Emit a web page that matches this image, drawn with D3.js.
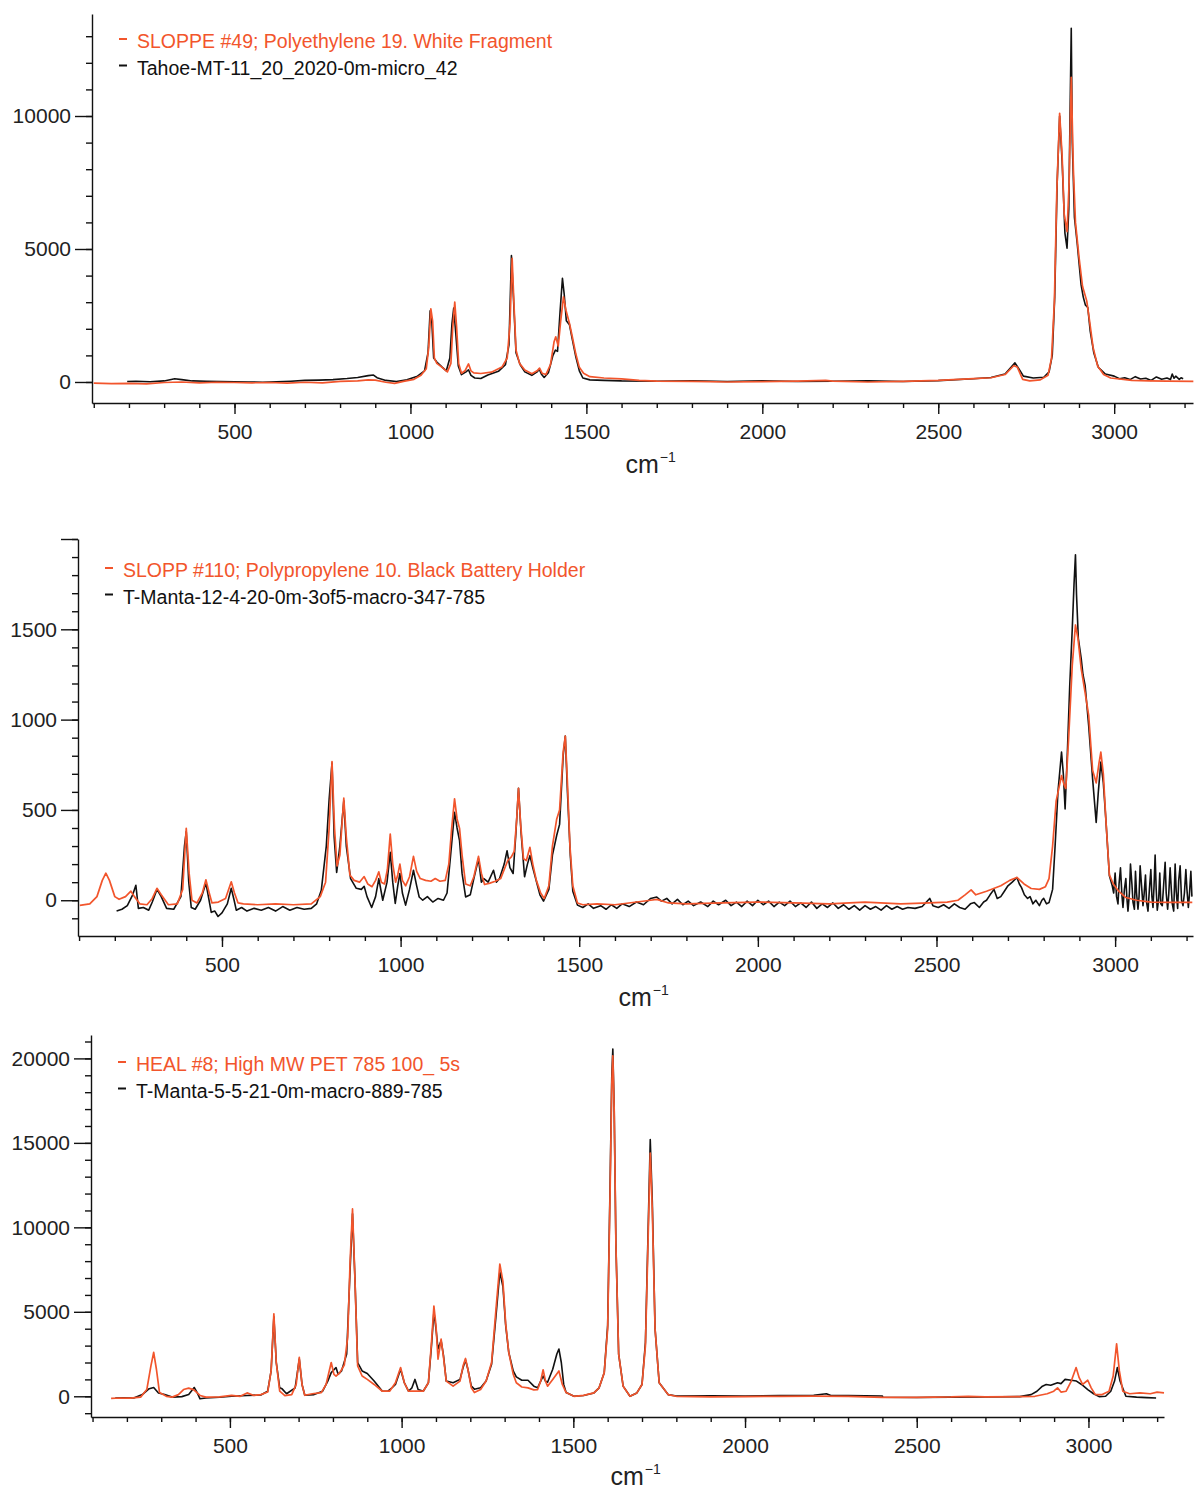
<!DOCTYPE html>
<html>
<head>
<meta charset="utf-8">
<script src="https://cdn.jsdelivr.net/npm/d3@7"></script>
<style>
  body { margin: 0; background: #fff; }
  svg { display: block; font-family: "Liberation Sans", Arial, sans-serif; }
</style>
</head>
<body>
<div id="chart"></div>
<script>
// ---- data: [wavenumber cm-1, intensity] ----

const peRefName = 'SLOPPE #49; Polyethylene 19. White Fragment'
const peSampleName = 'Tahoe-MT-11_20_2020-0m-micro_42'
const peRef = [
  [100, -40], [150, -60], [200, -50], [250, -70], [300, -20], [350, 0], [400, -30], [450, -10],
  [500, -20], [550, -30], [600, -20], [650, -40], [700, -10], [750, -30], [800, 20], [850, 40],
  [880, 80], [900, 70], [930, -10], [955, -50], [980, 20], [1010, 100], [1030, 250], [1045, 500],
  [1052, 1300], [1058, 2750], [1063, 2300], [1068, 900], [1075, 700], [1090, 550], [1105, 380],
  [1115, 700], [1120, 2000], [1126, 3000], [1131, 2100], [1137, 700], [1145, 330], [1155, 420],
  [1165, 680], [1172, 420], [1180, 340], [1200, 320], [1230, 370], [1260, 560], [1275, 900],
  [1283, 2200], [1289, 4650], [1294, 3000], [1300, 1200], [1310, 700], [1325, 450], [1345, 310],
  [1360, 420], [1367, 520], [1374, 330], [1385, 280], [1398, 650], [1408, 1500], [1413, 1700],
  [1420, 1350], [1427, 2300], [1435, 3200], [1442, 2700], [1452, 2200], [1460, 1700], [1470, 1050],
  [1480, 550], [1492, 330], [1510, 200], [1550, 150], [1600, 120], [1650, 60], [1700, 30],
  [1800, 20], [1900, 0], [2000, 10], [2100, 30], [2180, 60], [2200, 30], [2300, 0], [2400, 20],
  [2500, 60], [2600, 130], [2650, 160], [2690, 280], [2715, 620], [2725, 550], [2740, 100],
  [2760, 40], [2790, 80], [2812, 250], [2822, 900], [2830, 3000], [2837, 7200], [2845, 10100],
  [2852, 8500], [2858, 6300], [2866, 5650], [2872, 7500], [2878, 11450], [2884, 8000], [2890, 6000],
  [2900, 4700], [2910, 3600], [2922, 3050], [2930, 2300], [2940, 1300], [2953, 600], [2970, 280],
  [2990, 150], [3050, 60], [3100, 40], [3150, 30], [3225, 20]
]
const peSample = [
  [195, 20], [220, 30], [260, 10], [300, 40], [330, 120], [350, 90], [380, 40], [420, 30],
  [460, 20], [500, 10], [540, 0], [580, -10], [620, 10], [660, 30], [700, 60], [740, 70],
  [780, 90], [820, 130], [850, 170], [880, 240], [895, 260], [905, 160], [930, 60], [960, 20],
  [990, 80], [1020, 220], [1040, 420], [1050, 1100], [1056, 2680], [1061, 2200], [1066, 900],
  [1075, 750], [1090, 560], [1102, 420], [1112, 900], [1118, 2200], [1123, 2780], [1129, 1800],
  [1136, 600], [1145, 275], [1158, 380], [1165, 460], [1172, 250], [1183, 150], [1200, 130],
  [1220, 260], [1250, 400], [1270, 650], [1280, 1400], [1287, 4750], [1293, 3100], [1300, 1100],
  [1312, 650], [1325, 380], [1345, 250], [1360, 380], [1366, 480], [1373, 280], [1380, 170],
  [1392, 350], [1405, 1000], [1412, 1200], [1418, 1150], [1425, 2600], [1432, 3900], [1437, 3300],
  [1443, 2300], [1452, 2150], [1460, 1600], [1470, 950], [1480, 420], [1490, 150], [1510, 80],
  [1550, 60], [1600, 40], [1700, 30], [1800, 40], [1900, 20], [2000, 40], [2100, 20], [2200, 30],
  [2300, 40], [2400, 20], [2500, 50], [2600, 120], [2650, 170], [2690, 300], [2718, 720],
  [2728, 520], [2742, 220], [2770, 150], [2800, 180], [2815, 380], [2824, 1000], [2831, 3200],
  [2838, 7500], [2845, 10000], [2852, 8300], [2860, 5600], [2866, 5030], [2871, 6500],
  [2875, 10500], [2878, 13300], [2881, 9000], [2887, 6200], [2895, 5200], [2906, 3650],
  [2912, 3200], [2918, 2900], [2925, 2800], [2932, 1900], [2942, 1100], [2955, 550], [2975, 300],
  [3000, 220], [3015, 120], [3030, 160], [3045, 90], [3060, 200], [3075, 110], [3090, 140],
  [3105, 60], [3120, 190], [3135, 100], [3150, 150], [3160, 90], [3165, 300], [3170, 140],
  [3175, 220], [3185, 100], [3190, 160], [3196, 120]
]

const ppRefName = 'SLOPP #110; Polypropylene 10. Black Battery Holder'
const ppSampleName = 'T-Manta-12-4-20-0m-3of5-macro-347-785'
const ppRef = [
  [102, -28], [130, -20], [150, 20], [165, 110], [175, 150], [185, 110], [200, 20], [212, 5],
  [230, 20], [245, 50], [255, 20], [270, -20], [290, -25], [305, 10], [318, 66], [330, 30],
  [350, -25], [375, -20], [390, 60], [400, 398], [408, 150], [416, 0], [430, -15], [445, 40],
  [455, 113], [463, 50], [472, -15], [490, -10], [510, 10], [526, 102], [535, 40], [545, -15],
  [560, -20], [600, -25], [650, -20], [700, -25], [750, -20], [775, 20], [790, 100], [800, 400],
  [808, 768], [815, 400], [822, 190], [830, 250], [841, 565], [848, 350], [858, 140], [870, 110],
  [885, 100], [898, 131], [908, 90], [920, 75], [930, 110], [939, 157], [946, 100], [955, 90],
  [963, 170], [971, 366], [978, 200], [986, 100], [992, 140], [998, 200], [1005, 110], [1014, 80],
  [1025, 130], [1036, 243], [1045, 160], [1055, 120], [1070, 110], [1085, 105], [1097, 120],
  [1110, 105], [1125, 110], [1135, 200], [1143, 400], [1151, 561], [1158, 450], [1165, 398],
  [1172, 250], [1182, 90], [1195, 80], [1205, 130], [1218, 243], [1226, 150], [1235, 87],
  [1250, 95], [1265, 105], [1280, 120], [1292, 180], [1300, 220], [1310, 240], [1318, 270],
  [1325, 450], [1330, 620], [1336, 420], [1344, 230], [1352, 220], [1362, 293], [1370, 200],
  [1380, 110], [1392, 40], [1402, 10], [1415, 80], [1425, 300], [1437, 450], [1445, 500],
  [1455, 820], [1461, 909], [1467, 650], [1474, 300], [1482, 80], [1495, -15], [1510, -25],
  [1550, -20], [1600, -25], [1700, 0], [1717, 5], [1750, -15], [1800, -20], [1900, -15],
  [2000, -10], [2100, -15], [2200, -20], [2300, -10], [2400, -20], [2480, -15], [2530, -10],
  [2560, 0], [2580, 30], [2597, 57], [2610, 30], [2640, 50], [2680, 80], [2705, 110], [2725, 126],
  [2745, 90], [2765, 65], [2788, 60], [2805, 75], [2815, 120], [2825, 300], [2835, 550],
  [2850, 690], [2857, 640], [2862, 620], [2870, 900], [2880, 1300], [2889, 1524], [2896, 1450],
  [2905, 1283], [2916, 1150], [2926, 1024], [2937, 720], [2947, 650], [2955, 760], [2960, 820],
  [2967, 700], [2974, 450], [2984, 140], [2995, 90], [3010, 50], [3030, 15], [3060, 0],
  [3100, -10], [3150, -12], [3216, -12]
]
const ppSample = [
  [205, -60], [220, -50], [235, -30], [250, 30], [259, 83], [266, -45], [280, -40], [295, -55],
  [305, -10], [318, 60], [330, 20], [345, -45], [365, -50], [385, 20], [395, 300], [400, 380],
  [407, 100], [414, -40], [425, -50], [440, 0], [455, 95], [462, 20], [470, -67], [480, -60],
  [489, -90], [500, -70], [515, -20], [526, 66], [534, 0], [540, -55], [555, -40], [570, -60],
  [590, -45], [610, -55], [630, -40], [650, -60], [670, -35], [690, -55], [710, -40], [730, -50],
  [750, -45], [765, -20], [778, 55], [792, 300], [800, 560], [808, 760], [814, 350], [821, 154],
  [830, 300], [841, 550], [848, 300], [860, 120], [876, 66], [890, 60], [898, 77], [906, 20],
  [919, -40], [930, 20], [939, 120], [950, 0], [962, 100], [971, 266], [978, 100], [985, -18],
  [992, 80], [998, 148], [1005, 40], [1014, -27], [1025, 60], [1036, 166], [1045, 80], [1052, 18],
  [1062, 0], [1075, 20], [1090, -10], [1105, 10], [1120, 0], [1130, 40], [1140, 250], [1151, 487],
  [1158, 400], [1165, 330], [1172, 150], [1182, 18], [1195, 30], [1205, 120], [1218, 230],
  [1226, 100], [1233, 120], [1245, 100], [1260, 166], [1268, 100], [1277, 120], [1290, 200],
  [1298, 274], [1306, 180], [1315, 148], [1322, 350], [1330, 620], [1337, 380], [1347, 130],
  [1355, 200], [1362, 247], [1370, 180], [1378, 120], [1390, 30], [1400, -5], [1415, 60],
  [1425, 250], [1437, 360], [1445, 420], [1455, 800], [1461, 909], [1467, 600], [1475, 250],
  [1482, 50], [1495, -27], [1510, -40], [1525, -20], [1540, -45], [1560, -30], [1575, -50],
  [1590, -25], [1605, -45], [1620, -20], [1640, -35], [1660, -10], [1680, -25], [1700, 10],
  [1717, 18], [1730, -5], [1745, 10], [1760, -20], [1775, 5], [1790, -25], [1805, -5],
  [1820, -30], [1840, -10], [1860, -35], [1875, -5], [1890, -25], [1910, 0], [1925, -30],
  [1940, -10], [1955, -35], [1970, -5], [1985, -30], [2000, 0], [2015, -25], [2030, -5],
  [2045, -35], [2060, -10], [2075, -30], [2090, -5], [2105, -35], [2120, -15], [2135, -40],
  [2150, -10], [2165, -45], [2180, -20], [2195, -40], [2210, -15], [2225, -45], [2240, -25],
  [2255, -50], [2270, -30], [2285, -55], [2300, -30], [2315, -50], [2330, -35], [2345, -55],
  [2360, -30], [2375, -50], [2390, -35], [2405, -50], [2420, -40], [2440, -45], [2460, -35],
  [2481, 10], [2490, -30], [2505, -40], [2520, -25], [2535, -45], [2550, -20], [2565, -40],
  [2580, -50], [2595, -20], [2606, -13], [2620, -40], [2632, -10], [2640, 0], [2650, 30],
  [2661, 60], [2670, 10], [2680, 20], [2690, 50], [2700, 80], [2712, 100], [2725, 126],
  [2732, 90], [2738, 70], [2746, 30], [2755, 10], [2762, 20], [2770, -20], [2778, 0], [2788, -30],
  [2795, 0], [2800, 10], [2808, -20], [2815, -13], [2825, 60], [2832, 300], [2840, 600],
  [2850, 820], [2855, 700], [2860, 505], [2866, 800], [2873, 1190], [2880, 1500], [2885, 1750],
  [2889, 1913], [2892, 1690], [2897, 1450], [2905, 1339], [2910, 1250], [2916, 1190], [2926, 967],
  [2937, 672], [2947, 431], [2953, 600], [2960, 765], [2967, 650], [2974, 450], [2984, 135],
  [2992, 80], [2996, 40], [3000, 150], [3004, 20], [3008, -20], [3011, 90], [3015, 180],
  [3019, 30], [3022, -40], [3026, 60], [3030, 120], [3033, 10], [3036, -60], [3040, 40],
  [3043, 200], [3047, 90], [3050, -10], [3054, -50], [3057, 160], [3060, 40], [3064, -50],
  [3067, 20], [3070, 190], [3074, 80], [3078, -30], [3081, 30], [3085, 140], [3088, -10],
  [3092, -60], [3096, 60], [3100, 170], [3103, 20], [3106, -40], [3109, 80], [3112, 250],
  [3115, 60], [3118, -55], [3122, 10], [3125, 150], [3128, -20], [3132, -30], [3136, 90],
  [3140, 210], [3143, 40], [3147, -50], [3150, 30], [3154, 180], [3157, 70], [3160, -20],
  [3164, -60], [3168, 200], [3171, 50], [3175, -45], [3178, 110], [3182, 190], [3186, 0],
  [3190, -30], [3194, 40], [3198, 170], [3201, 60], [3205, -40], [3208, 30], [3212, 160],
  [3215, 20]
]

const petRefName = 'HEAL #8; High MW PET 785 100_ 5s'
const petSampleName = 'T-Manta-5-5-21-0m-macro-889-785'
const petRef = [
  [154, -120], [180, -100], [210, -110], [240, -50], [258, 400], [270, 1800], [278, 2600],
  [286, 1600], [295, 220], [315, 0], [332, -50], [350, 100], [365, 400], [380, 480], [395, 380],
  [413, 50], [430, -50], [470, -30], [505, 50], [530, 0], [550, 200], [570, 50], [590, 100],
  [610, 250], [620, 1500], [628, 4880], [635, 2000], [645, 300], [660, 40], [680, 100], [693, 700],
  [702, 2300], [710, 700], [718, 60], [740, 150], [766, 220], [780, 700], [795, 2000], [803, 1300],
  [809, 1190], [820, 1400], [833, 1850], [843, 3500], [850, 8000], [857, 11090], [864, 7000],
  [872, 1800], [885, 1200], [900, 1000], [920, 700], [944, 300], [965, 300], [982, 800],
  [997, 1700], [1008, 800], [1020, 300], [1039, 300], [1063, 300], [1078, 800], [1087, 3200],
  [1094, 5340], [1100, 4200], [1106, 2200], [1115, 3390], [1122, 2300], [1130, 900], [1150, 600],
  [1170, 900], [1179, 1800], [1186, 2240], [1193, 1600], [1203, 500], [1212, 220], [1230, 400],
  [1246, 900], [1262, 2000], [1275, 5200], [1286, 7820], [1295, 6800], [1303, 4300], [1312, 2600],
  [1325, 1300], [1334, 800], [1350, 550], [1368, 500], [1385, 380], [1396, 400], [1405, 900],
  [1412, 1570], [1419, 900], [1425, 600], [1440, 1000], [1458, 1500], [1468, 700], [1479, 220],
  [1502, 0], [1530, 50], [1560, 200], [1575, 500], [1590, 1400], [1600, 4000], [1607, 12000],
  [1612, 18500], [1615, 20150], [1619, 17000], [1624, 9000], [1632, 2500], [1645, 600], [1665, 0],
  [1685, 200], [1700, 700], [1710, 3000], [1718, 9500], [1724, 14400], [1730, 11000], [1738, 4000],
  [1750, 800], [1776, 100], [1800, 0], [1900, -30], [2000, -20], [2100, 0], [2200, 10],
  [2300, -10], [2400, -60], [2500, -70], [2600, -40], [2650, 0], [2700, -30], [2800, -20],
  [2844, 0], [2880, 150], [2899, 300], [2910, 500], [2920, 250], [2935, 300], [2950, 900],
  [2964, 1700], [2973, 1100], [2983, 700], [2998, 950], [3008, 500], [3020, 100], [3040, 100],
  [3060, 300], [3072, 1200], [3082, 3100], [3090, 1500], [3100, 300], [3120, 150], [3150, 200],
  [3180, 150], [3200, 250], [3220, 200]
]
const petSample = [
  [166, -100], [190, -90], [220, -100], [245, 100], [265, 450], [278, 518], [292, 200], [310, 100],
  [332, -50], [360, -20], [380, 100], [396, 520], [405, 200], [413, -150], [430, -100], [470, -60],
  [505, 0], [550, 50], [590, 80], [610, 300], [620, 1500], [628, 4700], [635, 2000], [645, 500],
  [652, 440], [665, 150], [690, 500], [702, 2200], [710, 700], [718, 60], [745, 100], [770, 300],
  [785, 900], [795, 1400], [809, 1700], [815, 1300], [825, 1500], [840, 2500], [850, 7500],
  [857, 10800], [864, 7000], [872, 2000], [885, 1500], [900, 1350], [920, 900], [944, 300],
  [960, 300], [973, 520], [982, 700], [997, 1600], [1008, 800], [1020, 300], [1030, 500],
  [1039, 1000], [1048, 400], [1063, 300], [1078, 800], [1087, 3000], [1094, 4990], [1100, 4000],
  [1106, 2800], [1115, 3300], [1122, 2400], [1130, 900], [1150, 800], [1170, 1000], [1179, 1700],
  [1186, 2150], [1193, 1600], [1203, 600], [1212, 420], [1230, 500], [1246, 900], [1262, 1900],
  [1275, 4800], [1286, 7360], [1295, 6500], [1303, 4200], [1312, 2600], [1325, 1500], [1334, 1150],
  [1350, 950], [1368, 950], [1385, 600], [1396, 500], [1405, 900], [1412, 1200], [1419, 900],
  [1425, 830], [1440, 1600], [1452, 2500], [1458, 2800], [1465, 2000], [1472, 700], [1479, 220],
  [1502, 0], [1530, 50], [1560, 200], [1575, 500], [1590, 1400], [1600, 4200], [1607, 12500],
  [1612, 19000], [1615, 20550], [1619, 17000], [1624, 9000], [1632, 2500], [1645, 600], [1665, 0],
  [1685, 200], [1700, 700], [1710, 3200], [1718, 10000], [1724, 15200], [1730, 11500],
  [1738, 4000], [1750, 800], [1776, 100], [1800, 20], [1900, 30], [2000, 20], [2100, 40],
  [2200, 60], [2237, 150], [2250, 50], [2300, 40], [2400, 20], [2401, -60], [2500, -70],
  [2600, -50], [2700, -40], [2800, -20], [2833, 100], [2850, 300], [2866, 600], [2877, 700],
  [2890, 650], [2910, 800], [2920, 750], [2932, 1000], [2950, 950], [2965, 900], [2980, 700],
  [2998, 400], [3015, 150], [3031, -20], [3050, 0], [3065, 300], [3076, 900], [3084, 1700],
  [3092, 900], [3109, 0], [3140, -50], [3170, -80], [3197, -100]
]

// tick labels
const xTicks = [500, 1000, 1500, 2000, 2500, 3000]
const yTicksPE = [0, 5000, 10000]
const yTicksPP = [0, 500, 1000, 1500, 2000]
const yLabelsPP = [0, 500, 1000, 1500]
const yTicksPET = [0, 5000, 10000, 15000, 20000]
const xLabel = 'cm'
const xLabelExp = '\u22121'

// ---- layout ----
const refColor = '#f2552c'
const sampleColor = '#111'

const panels = [
  {
    left: 92, right: 1193, top: 14, bottom: 403,
    xDomain: [95, 3224], yDomain: [-790, 13835],
    yTicks: yTicksPE, yLabels: yTicksPE, yMinor: 1000, xMinor: 100,
    ref: peRef, sample: peSample, refName: peRefName, sampleName: peSampleName,
    legendY: 48, labelY: 473
  },
  {
    left: 78, right: 1193, top: 539, bottom: 936,
    xDomain: [97, 3218], yDomain: [-198, 2000],
    yTicks: yTicksPP, yLabels: yLabelsPP, yMinor: 100, xMinor: 100,
    ref: ppRef, sample: ppSample, refName: ppRefName, sampleName: ppSampleName,
    legendY: 577, labelY: 1006
  },
  {
    left: 91, right: 1164, top: 1035, bottom: 1417,
    xDomain: [95.5, 3220], yDomain: [-1226, 21385],
    yTicks: yTicksPET, yLabels: yTicksPET, yMinor: 1000, xMinor: 100,
    ref: petRef, sample: petSample, refName: petRefName, sampleName: petSampleName,
    legendY: 1071, labelY: 1485
  }
]

const svg = d3.select('#chart').append('svg')
  .attr('width', 1194)
  .attr('height', 1490)

const drawPanel = p => {
  const x = d3.scaleLinear().domain(p.xDomain).range([p.left, p.right])
  const y = d3.scaleLinear().domain(p.yDomain).range([p.bottom, p.top])
  const g = svg.append('g')

  // minor ticks first, majors on top
  const xMinorTicks = d3.range(Math.ceil(p.xDomain[0] / p.xMinor) * p.xMinor, p.xDomain[1], p.xMinor)
  const yMinorTicks = d3.range(Math.ceil(p.yDomain[0] / p.yMinor) * p.yMinor, p.yDomain[1] + 1, p.yMinor)

  g.append('g')
    .attr('transform', 'translate(0,' + p.bottom + ')')
    .call(d3.axisBottom(x).tickValues(xMinorTicks).tickSize(5).tickFormat(''))
    .call(a => a.select('.domain').remove())

  g.append('g')
    .attr('transform', 'translate(' + p.left + ',0)')
    .call(d3.axisLeft(y).tickValues(yMinorTicks).tickSize(6).tickFormat(''))
    .call(a => a.select('.domain').remove())

  g.append('g')
    .attr('transform', 'translate(0,' + p.bottom + ')')
    .call(d3.axisBottom(x).tickValues(xTicks).tickSize(11).tickPadding(10).tickSizeOuter(0)
      .tickFormat(d3.format('d')))

  g.append('g')
    .attr('transform', 'translate(' + p.left + ',0)')
    .call(d3.axisLeft(y).tickValues(p.yTicks).tickSize(17).tickPadding(4).tickSizeOuter(0)
      .tickFormat(d => p.yLabels.includes(d) ? d : ''))

  g.selectAll('.tick line, .domain')
    .attr('stroke', '#111')
    .attr('stroke-width', 1.4)
  g.selectAll('.tick text')
    .attr('fill', '#222')
    .attr('font-size', 21)
    .attr('font-family', '"Liberation Sans", Arial, sans-serif')

  // axis title
  const title = g.append('text')
    .attr('x', (p.left + p.right) / 2 - 17)
    .attr('y', p.labelY)
    .attr('font-size', 25)
    .attr('fill', '#222')
  title.append('tspan').text(xLabel)
  title.append('tspan').attr('dy', -11).attr('dx', 1).attr('font-size', 14).text(xLabelExp)

  // spectra
  const line = d3.line()
    .x(d => x(d[0]))
    .y(d => y(d[1]))

  g.append('path')
    .datum(p.sample)
    .attr('fill', 'none')
    .attr('stroke', sampleColor)
    .attr('stroke-width', 1.6)
    .attr('stroke-linejoin', 'round')
    .attr('d', line)

  g.append('path')
    .datum(p.ref)
    .attr('fill', 'none')
    .attr('stroke', refColor)
    .attr('stroke-width', 1.7)
    .attr('stroke-linejoin', 'round')
    .attr('d', line)

  // legend
  const legend = g.append('g')
    .attr('transform', 'translate(' + (p.left + 27) + ',' + p.legendY + ')')

  const entries = [
    { name: p.refName, color: refColor },
    { name: p.sampleName, color: sampleColor }
  ]

  const item = legend.selectAll('g.item')
    .data(entries)
    .enter()
    .append('g')
    .attr('class', 'item')
    .attr('transform', (d, i) => 'translate(0,' + i * 26.5 + ')')

  item.append('line')
    .attr('x1', 0).attr('x2', 8)
    .attr('y1', -9).attr('y2', -9)
    .attr('stroke', d => d.color)
    .attr('stroke-width', 2)

  item.append('text')
    .attr('x', 18)
    .attr('font-size', 19.5)
    .attr('fill', d => d.color)
    .text(d => d.name)
}

panels.forEach(drawPanel)
</script>
</body>
</html>
